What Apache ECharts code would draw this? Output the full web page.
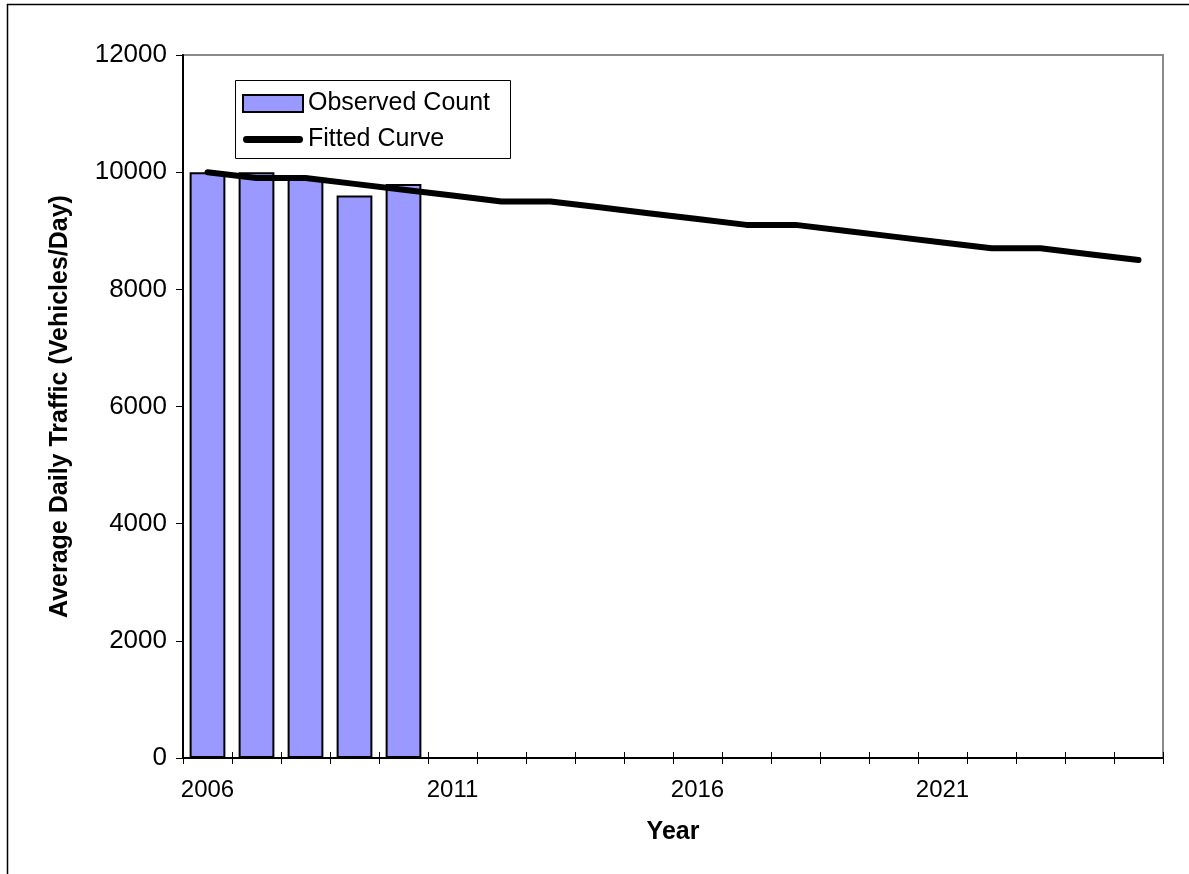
<!DOCTYPE html>
<html>
<head>
<meta charset="utf-8">
<script src="https://cdn.jsdelivr.net/npm/echarts@6/dist/echarts.min.js"></script>
<style>
  html, body { margin: 0; padding: 0; background: #fff; }
  #chart { width: 1189px; height: 874px; }
</style>
</head>
<body>
<div id="chart"></div>
<script>
// Years on the category axis
const years = ['2006', '2007', '2008', '2009', '2010', '2011', '2012', '2013', '2014', '2015',
               '2016', '2017', '2018', '2019', '2020', '2021', '2022', '2023', '2024', '2025'];

// Observed average daily traffic counts (vehicles/day)
const observedCount = [10000, 10000, 9900, 9600, 9800];

// Fitted trend curve for every year
const fittedCurve = [10000, 9900, 9900, 9800, 9700, 9600, 9500, 9500, 9400, 9300,
                     9200, 9100, 9100, 9000, 8900, 8800, 8700, 8700, 8600, 8500];

// Value axis ticks
const yMin = 0;
const yMax = 12000;
const yStep = 2000;

const FONT = '"Liberation Sans", Arial, sans-serif';

// Thick rounded stroke used as the legend key of the fitted curve
const CURVE_KEY = 'path://M3.5,0 H57.5 A3.5,3.5 0 0 1 57.5,7 H3.5 A3.5,3.5 0 0 1 3.5,0 Z';

const chart = echarts.init(document.getElementById('chart'), null, { renderer: 'canvas' });

chart.setOption({
  backgroundColor: '#ffffff',
  animation: false,
  textStyle: { fontFamily: FONT, color: '#000' },
  grid: {
    left: 183, right: 26, top: 55, bottom: 116,
    show: true, borderColor: '#8a8a8a', borderWidth: 2, backgroundColor: 'transparent'
  },
  graphic: [
    {
      // chart-area frame
      type: 'rect', z: -1, silent: true,
      shape: { x: 7.5, y: 4.5, width: 1300, height: 1000 },
      style: { fill: 'none', stroke: '#000', lineWidth: 1.5 }
    },
    {
      // legend frame
      type: 'rect', z: 5, silent: true,
      shape: { x: 235.5, y: 80.5, width: 275, height: 78 },
      style: { fill: '#fff', stroke: '#000', lineWidth: 1 }
    }
  ],
  legend: {
    orient: 'vertical',
    left: 242, top: 91,
    padding: 0,
    itemWidth: 60, itemHeight: 17,
    itemGap: 11,
    z: 10,
    symbolKeepAspect: true,
    textStyle: { fontFamily: FONT, fontSize: 25, color: '#000' },
    data: [
      { name: 'Observed Count', icon: 'rect' },
      { name: 'Fitted Curve', icon: CURVE_KEY, itemStyle: { color: '#000', borderWidth: 0 } }
    ]
  },
  xAxis: [
    {
      type: 'category',
      data: years,
      boundaryGap: true,
      name: 'Year',
      nameLocation: 'middle',
      nameGap: 62,
      nameTextStyle: { fontFamily: FONT, fontSize: 25, fontWeight: 'bold', color: '#000' },
      axisLine: { show: true, lineStyle: { color: '#000', width: 2 } },
      axisTick: { show: true, interval: 0, alignWithLabel: false, length: 6, lineStyle: { color: '#000', width: 1 } },
      axisLabel: { interval: 4, margin: 20, fontFamily: FONT, fontSize: 24, color: '#000' },
      splitLine: { show: false }
    },
    {
      // same categories, used only for the inner half of the crossing ticks
      type: 'category',
      data: years,
      position: 'bottom',
      boundaryGap: true,
      axisLine: { show: false },
      axisTick: { show: true, inside: true, interval: 0, length: 6, lineStyle: { color: '#000', width: 1 } },
      axisLabel: { show: false },
      splitLine: { show: false }
    }
  ],
  yAxis: {
    type: 'value',
    min: yMin, max: yMax, interval: yStep,
    name: 'Average Daily Traffic (Vehicles/Day)',
    nameLocation: 'middle',
    nameGap: 110,
    nameRotate: 90,
    nameTextStyle: { fontFamily: FONT, fontSize: 25, fontWeight: 'bold', color: '#000' },
    axisLine: { show: true, lineStyle: { color: '#000', width: 2 } },
    axisTick: { show: true, length: 7, lineStyle: { color: '#000', width: 1 } },
    axisLabel: { margin: 16, fontFamily: FONT, fontSize: 26, color: '#000', formatter: v => String(v) },
    splitLine: { show: false }
  },
  series: [
    {
      name: 'Observed Count',
      type: 'bar',
      xAxisIndex: 0,
      data: observedCount,
      barCategoryGap: '27%',
      itemStyle: { color: '#9999ff', borderColor: '#000', borderWidth: 2 },
      z: 2
    },
    {
      name: 'Fitted Curve',
      type: 'line',
      xAxisIndex: 0,
      data: fittedCurve,
      symbol: 'none',
      lineStyle: { color: '#000', width: 6, cap: 'round', join: 'round' },
      itemStyle: { color: '#000' },
      z: 3
    }
  ]
});
</script>
</body>
</html>
